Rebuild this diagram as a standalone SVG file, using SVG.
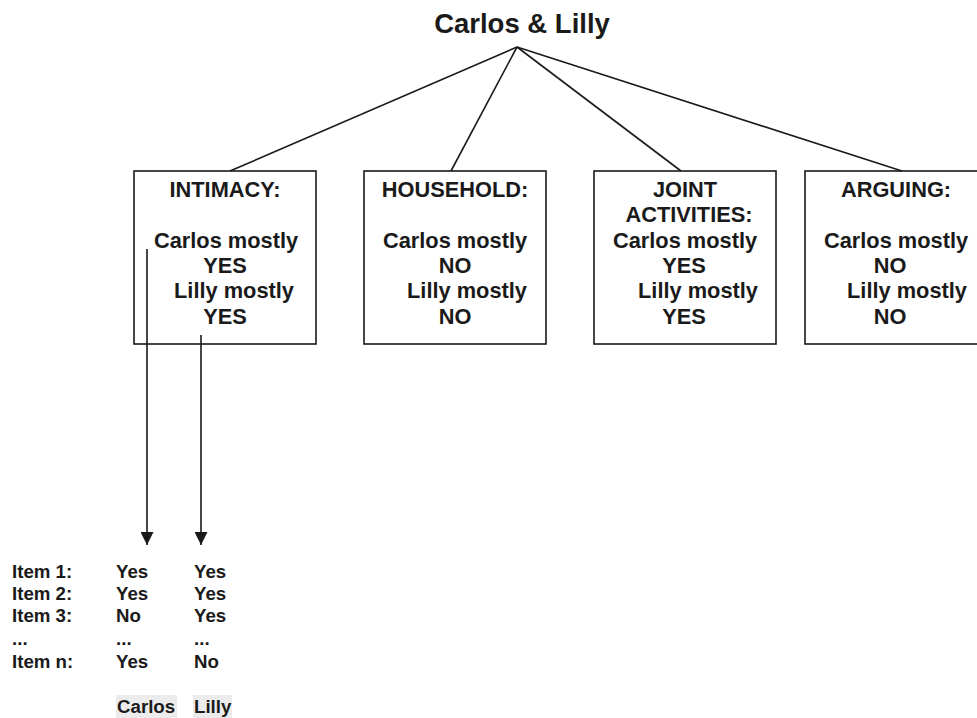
<svg xmlns="http://www.w3.org/2000/svg" width="977" height="718" viewBox="0 0 977 718">
<defs>
<style>
text{font-family:"Liberation Sans",Arial,sans-serif;font-weight:bold;fill:#1a1a1a}
.t{font-size:27.5px}
.b{font-size:21.8px;text-anchor:middle}
.s{font-size:18.7px}
.box{fill:#fff;stroke:#1a1a1a;stroke-width:1.6}
.ln{stroke:#1a1a1a;stroke-width:1.6;fill:none}
.lab{fill:#ececec}
</style>
<marker id="ah" viewBox="0 0 10 10" refX="10" refY="5" markerWidth="13" markerHeight="13" markerUnits="userSpaceOnUse" orient="auto"><path d="M0,0 L10,5 L0,10 Z" fill="#1a1a1a"/></marker>
</defs>
<rect width="977" height="718" fill="#fff"/>
<g id="title"><text class="t" x="522" y="33" text-anchor="middle">Carlos &amp; Lilly</text></g>
<g id="intimacy">
<rect class="box" x="134" y="171" width="182" height="173"/>
<text class="b" x="225" y="197">INTIMACY:</text>
<text class="b" x="226" y="248">Carlos mostly</text>
<text class="b" x="225" y="273">YES</text>
<text class="b" x="234" y="298">Lilly mostly</text>
<text class="b" x="225" y="324">YES</text>
</g>
<g id="household">
<rect class="box" x="364" y="171" width="182" height="173"/>
<text class="b" x="455" y="197">HOUSEHOLD:</text>
<text class="b" x="455" y="248">Carlos mostly</text>
<text class="b" x="455" y="273">NO</text>
<text class="b" x="467" y="298">Lilly mostly</text>
<text class="b" x="455" y="324">NO</text>
</g>
<g id="joint">
<rect class="box" x="594" y="171" width="182" height="173"/>
<text class="b" x="685" y="197">JOINT</text>
<text class="b" x="689" y="222">ACTIVITIES:</text>
<text class="b" x="685" y="248">Carlos mostly</text>
<text class="b" x="684" y="273">YES</text>
<text class="b" x="698" y="298">Lilly mostly</text>
<text class="b" x="684" y="324">YES</text>
</g>
<g id="arguing">
<rect class="box" x="805" y="171" width="186" height="173"/>
<text class="b" x="896" y="197">ARGUING:</text>
<text class="b" x="896" y="248">Carlos mostly</text>
<text class="b" x="890" y="273">NO</text>
<text class="b" x="907" y="298">Lilly mostly</text>
<text class="b" x="890" y="324">NO</text>
</g>
<g id="connectors">
<line class="ln" x1="517" y1="47" x2="230" y2="171"/>
<line class="ln" x1="517" y1="47" x2="451" y2="171"/>
<line class="ln" x1="517" y1="47" x2="681" y2="171"/>
<line class="ln" x1="517" y1="47" x2="902" y2="171"/>
<line class="ln" x1="147" y1="249" x2="147" y2="545" marker-end="url(#ah)"/>
<line class="ln" x1="201" y1="335" x2="201" y2="545" marker-end="url(#ah)"/>
</g>
<g id="items">
<text class="s" x="12" y="578">Item 1:</text>
<text class="s" x="12" y="600">Item 2:</text>
<text class="s" x="12" y="622">Item 3:</text>
<text class="s" x="12" y="645">...</text>
<text class="s" x="12" y="668">Item n:</text>
<text class="s" x="116" y="578">Yes</text>
<text class="s" x="116" y="600">Yes</text>
<text class="s" x="116" y="622">No</text>
<text class="s" x="116" y="645">...</text>
<text class="s" x="116" y="668">Yes</text>
<text class="s" x="194" y="578">Yes</text>
<text class="s" x="194" y="600">Yes</text>
<text class="s" x="194" y="622">Yes</text>
<text class="s" x="194" y="645">...</text>
<text class="s" x="194" y="668">No</text>
</g>
<g id="carlos-label">
<rect class="lab" x="116" y="695" width="61" height="23"/>
<text class="s" x="117" y="713">Carlos</text>
</g>
<g id="lilly-label">
<rect class="lab" x="193" y="695" width="39" height="23"/>
<text class="s" x="194" y="713">Lilly</text>
</g>
</svg>
